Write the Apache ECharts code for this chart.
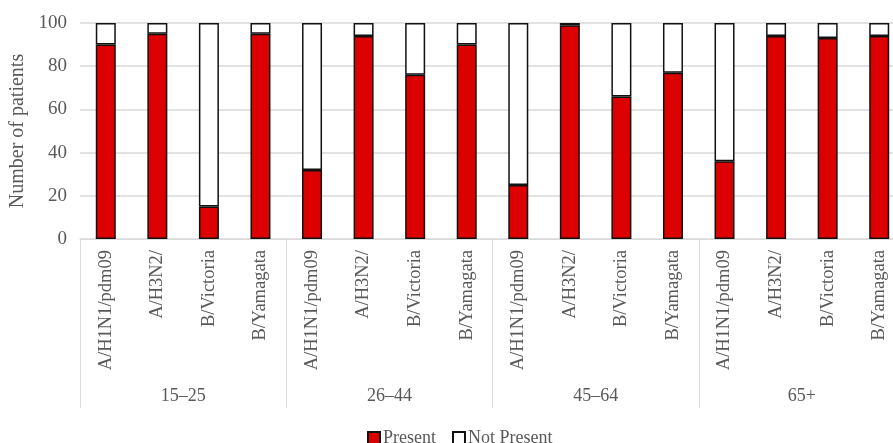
<!DOCTYPE html>
<html>
<head>
<meta charset="utf-8">
<script src="https://cdn.jsdelivr.net/npm/echarts@6/dist/echarts.min.js"></script>
<style>
  html, body { margin: 0; padding: 0; background: #ffffff; }
  #chart { width: 893px; height: 443px; }
</style>
</head>
<body>
<div id="chart"></div>
<script>
// Influenza lineages by age group
const ageGroups = ['15–25', '26–44', '45–64', '65+'];
const lineages = ['A/H1N1/pdm09', 'A/H3N2/', 'B/Victoria', 'B/Yamagata'];
const categories = [
  'A/H1N1/pdm09', 'A/H3N2/', 'B/Victoria', 'B/Yamagata',
  'A/H1N1/pdm09', 'A/H3N2/', 'B/Victoria', 'B/Yamagata',
  'A/H1N1/pdm09', 'A/H3N2/', 'B/Victoria', 'B/Yamagata',
  'A/H1N1/pdm09', 'A/H3N2/', 'B/Victoria', 'B/Yamagata'
];
const present    = [90, 95, 15, 95, 32, 94, 76, 90, 25, 99, 66, 77, 36, 94, 93, 94];
const notPresent = [10,  5, 85,  5, 68,  6, 24, 10, 75,  1, 34, 23, 64,  6,  7,  6];
const yTicks = [0, 20, 40, 60, 80, 100];

const FONT = '"Liberation Serif", "Times New Roman", serif';
const TEXT = '#595959';
const GRIDLINE = '#d9d9d9';

const chart = echarts.init(document.getElementById('chart'), null, { renderer: 'canvas' });

chart.setOption({
  animation: false,
  backgroundColor: '#ffffff',
  textStyle: { fontFamily: FONT, color: TEXT },
  // the plot runs slightly past the right edge of the canvas
  grid: { left: 80, top: 23, width: 825, height: 216, containLabel: false, outerBoundsMode: 'none' },
  legend: {
    data: ['Present', 'Not Present'],
    left: 362,
    top: 424,
    icon: 'rect',
    itemWidth: 12,
    itemHeight: 12,
    itemGap: 16,
    textStyle: { fontFamily: FONT, fontSize: 18, color: TEXT, padding: [0, 0, 0, -2] }
  },
  xAxis: [
    {
      type: 'category',
      data: categories,
      position: 'bottom',
      axisLine: { show: true, lineStyle: { color: GRIDLINE, width: 1 } },
      axisTick: { show: false },
      axisLabel: {
        interval: 0,
        rotate: 90,
        margin: 11,
        fontFamily: FONT,
        fontSize: 18.5,
        color: TEXT
      }
    },
    {
      type: 'category',
      data: ageGroups,
      position: 'bottom',
      axisLine: { show: false },
      axisTick: { show: true, length: 169, interval: 0, lineStyle: { color: GRIDLINE, width: 1 } },
      axisLabel: {
        interval: 0,
        margin: 148,
        fontFamily: FONT,
        fontSize: 18,
        color: TEXT
      }
    }
  ],
  yAxis: {
    type: 'value',
    min: yTicks[0],
    max: yTicks[yTicks.length - 1],
    interval: 20,
    name: 'Number of patients',
    nameLocation: 'middle',
    nameGap: 52,
    nameTextStyle: { fontFamily: FONT, fontSize: 20, color: TEXT },
    axisLine: { show: false },
    axisTick: { show: false },
    axisLabel: { margin: 13, fontFamily: FONT, fontSize: 19, color: TEXT },
    splitLine: { lineStyle: { color: GRIDLINE, width: 1.5 } }
  },
  series: [
    {
      name: 'Present',
      type: 'bar',
      stack: 'total',
      xAxisIndex: 0,
      data: present,
      barWidth: 20,
      itemStyle: { color: '#dd0000', borderColor: '#111111', borderWidth: 1.5 }
    },
    {
      name: 'Not Present',
      type: 'bar',
      stack: 'total',
      xAxisIndex: 0,
      data: notPresent,
      barWidth: 20,
      itemStyle: { color: '#ffffff', borderColor: '#111111', borderWidth: 1.5 }
    }
  ]
});
</script>
</body>
</html>
